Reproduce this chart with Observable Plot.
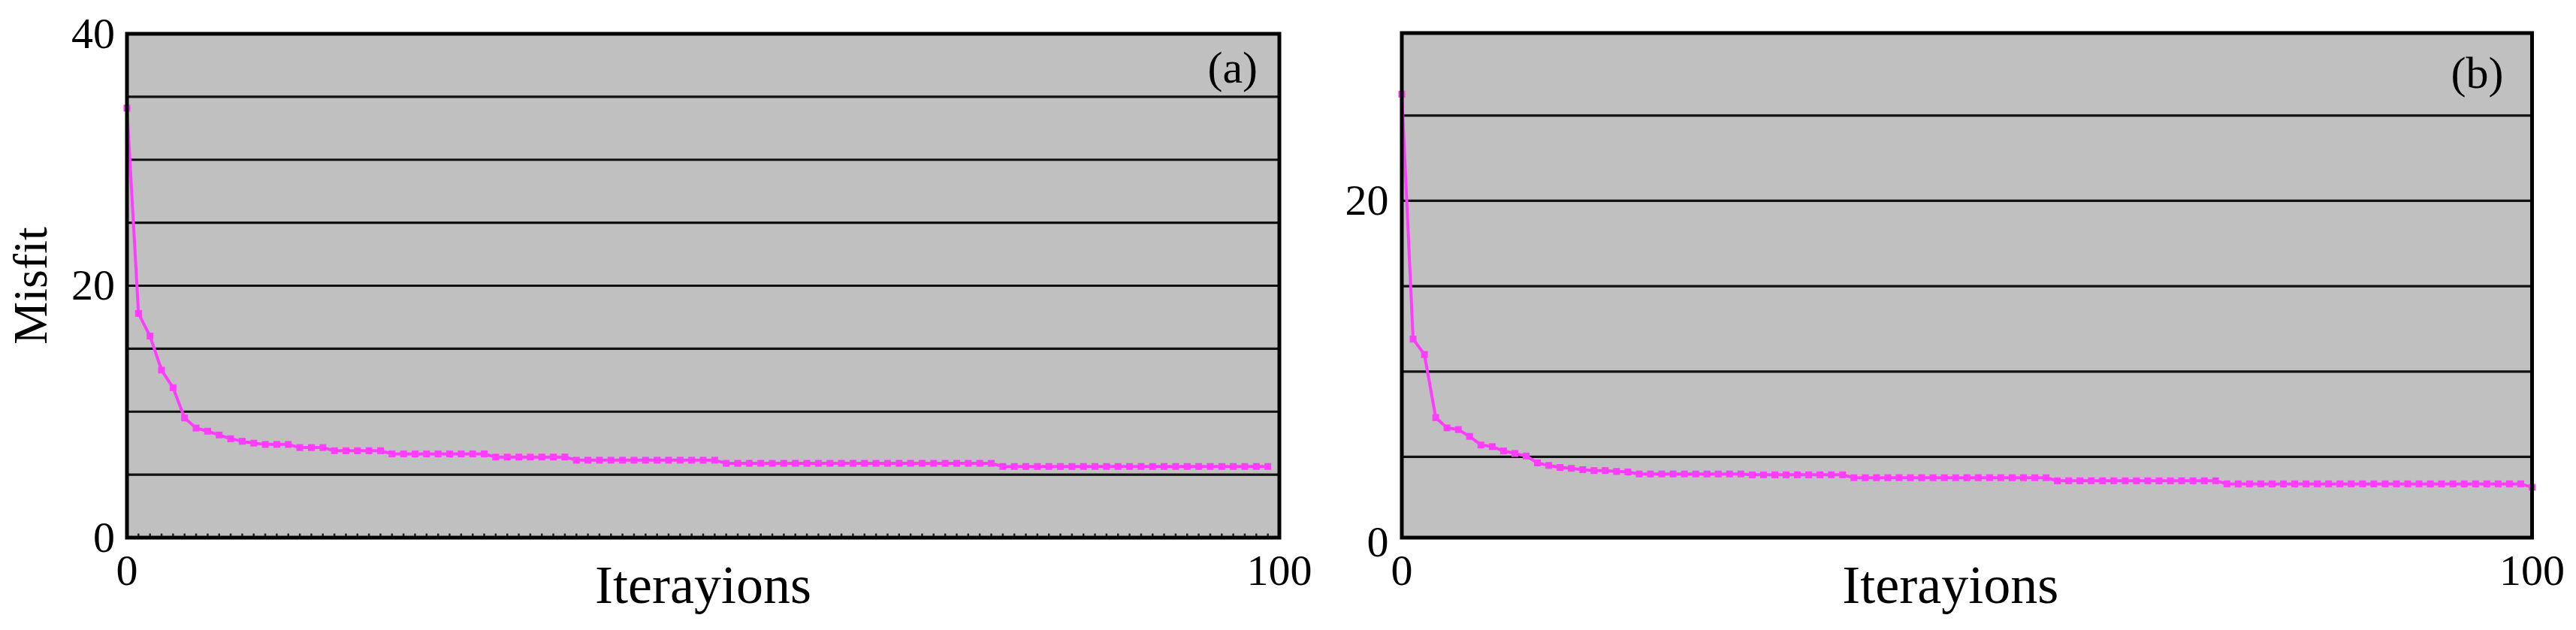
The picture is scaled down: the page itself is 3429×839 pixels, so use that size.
<!DOCTYPE html>
<html>
<head>
<meta charset="utf-8">
<script src="https://cdn.jsdelivr.net/npm/d3@7"></script>
<script src="https://cdn.jsdelivr.net/npm/@observablehq/plot@0.6"></script>
<style>
html, body { margin: 0; padding: 0; background: #ffffff; }
#wrap { position: relative; width: 3429px; height: 839px; overflow: hidden; background: #ffffff; }
</style>
</head>
<body>
<div id="wrap"></div>
<script>
// ---------- data ----------
const misfitA = [
  34.1, 17.8, 16.0, 13.3, 11.9, 9.5, 8.7, 8.45, 8.15, 7.85,
  7.65, 7.5, 7.4, 7.4, 7.4, 7.15, 7.15, 7.15, 6.9, 6.9,
  6.9, 6.9, 6.9, 6.65, 6.65, 6.65, 6.65, 6.65, 6.65, 6.65,
  6.65, 6.65, 6.4, 6.4, 6.4, 6.4, 6.4, 6.4, 6.4, 6.15,
  6.15, 6.15, 6.15, 6.15, 6.15, 6.15, 6.15, 6.15, 6.15, 6.15,
  6.15, 6.15, 5.9, 5.9, 5.9, 5.9, 5.9, 5.9, 5.9, 5.9,
  5.9, 5.9, 5.9, 5.9, 5.9, 5.9, 5.9, 5.9, 5.9, 5.9,
  5.9, 5.9, 5.9, 5.9, 5.9, 5.9, 5.65, 5.65, 5.65, 5.65,
  5.65, 5.65, 5.65, 5.65, 5.65, 5.65, 5.65, 5.65, 5.65, 5.65,
  5.65, 5.65, 5.65, 5.65, 5.65, 5.65, 5.65, 5.65, 5.65, 5.65
];
const misfitB = [
  26.25, 11.9, 11.0, 7.3, 6.7, 6.6, 6.2, 5.7, 5.6, 5.35,
  5.2, 5.05, 4.65, 4.5, 4.38, 4.33, 4.25, 4.2, 4.2, 4.15,
  4.12, 4.0, 4.0, 4.0, 4.0, 4.0, 4.0, 4.0, 4.0, 4.0,
  4.0, 3.95, 3.95, 3.95, 3.95, 3.95, 3.95, 3.95, 3.95, 3.95,
  3.78, 3.78, 3.78, 3.78, 3.78, 3.78, 3.78, 3.78, 3.78, 3.78,
  3.78, 3.78, 3.78, 3.78, 3.78, 3.78, 3.78, 3.78, 3.6, 3.6,
  3.6, 3.6, 3.6, 3.6, 3.6, 3.6, 3.6, 3.6, 3.6, 3.6,
  3.6, 3.6, 3.6, 3.42, 3.42, 3.42, 3.42, 3.42, 3.42, 3.42,
  3.42, 3.42, 3.42, 3.42, 3.42, 3.42, 3.42, 3.42, 3.42, 3.42,
  3.42, 3.42, 3.42, 3.42, 3.42, 3.42, 3.42, 3.42, 3.42, 3.42,
  3.22
];
const xTicks = [0, 100];
const yTicksA = [0, 20, 40];
const yTicksB = [0, 20];
const gridA = [5, 10, 15, 20, 25, 30, 35];
const gridB = [5, 10, 15, 20, 25];
const xLabel = "Iterayions";
const yLabel = "Misfit";
const panelA = "(a)";
const panelB = "(b)";

// ---------- style ----------
const FONT = "'Liberation Serif', 'Times New Roman', serif";
const PINK = "#ff3dff";
const BG = "#c0c0c0";

function panel(opts) {
  const data = opts.values.map((v, i) => ({iter: i, misfit: v}));
  const marks = [
    Plot.frame({fill: BG, stroke: "none"}),
    Plot.ruleY(opts.grid, {stroke: "#111111", strokeWidth: 3.2}),
  ];
  if (opts.innerTicks) {
    marks.push(Plot.axisX({ticks: data.map(d => d.iter), tickSize: -5, strokeWidth: 2.5, stroke: "#222", tickFormat: () => "", label: null}));
  }
  marks.push(
    Plot.line(data, {x: "iter", y: "misfit", stroke: PINK, strokeWidth: 4}),
    Plot.dot(data, {x: "iter", y: "misfit", symbol: "square", r: 5.1, fill: PINK, stroke: "none"}),
    Plot.frame({stroke: "#000", strokeWidth: 5}),
    Plot.axisY({ticks: opts.yTicks, tickSize: 0, tickPadding: opts.yPad, label: null, fontSize: 58}),
    Plot.axisX({ticks: xTicks, tickSize: 0, tickPadding: 22, label: null, fontSize: 58}),
    Plot.text([xLabel], {text: d => d, frameAnchor: "bottom", dy: 36, dx: opts.xLabelDx, lineAnchor: "top", textAnchor: "middle", fontSize: 72}),
    Plot.text([opts.tag], {text: d => d, frameAnchor: "top-right", dx: opts.tagDx, dy: opts.tagDy, lineAnchor: "middle", textAnchor: "end", fontSize: 60})
  );
  if (opts.yTitle) {
    marks.push(Plot.text([yLabel], {text: d => d, frameAnchor: "left", rotate: -90, dx: -127.5, lineAnchor: "middle", textAnchor: "middle", fontSize: 64}));
  }
  return Plot.plot({
    width: opts.width,
    height: 839,
    marginLeft: opts.ml, marginRight: opts.mr, marginTop: opts.mt, marginBottom: opts.mb,
    style: {fontFamily: FONT, fontSize: "58px", background: "transparent", color: "#000", overflow: "visible"},
    x: {domain: [0, 100]},
    y: {domain: opts.yDomain},
    marks
  });
}

const wrap = document.getElementById("wrap");

const chartA = panel({
  values: misfitA, grid: gridA, yTicks: yTicksA, yDomain: [0, 40],
  width: 1780, ml: 168.5, mr: 77.5, mt: 44.5, mb: 123.5,
  yPad: 16, xLabelDx: 0, tag: panelA, tagDx: -29, tagDy: 46, yTitle: true, innerTicks: true
});
chartA.style.position = "absolute";
chartA.style.left = "0px";
chartA.style.top = "0px";
wrap.appendChild(chartA);

const chartB = panel({
  values: misfitB, grid: gridB, yTicks: yTicksB, yDomain: [0.27, 29.83],
  width: 1649, ml: 85.5, mr: 59, mt: 43.5, mb: 123.5,
  yPad: 17.5, xLabelDx: -22, tag: panelB, tagDx: -38, tagDy: 54, yTitle: false, innerTicks: false
});
chartB.style.position = "absolute";
chartB.style.left = "1780px";
chartB.style.top = "0px";
wrap.appendChild(chartB);
</script>
</body>
</html>
